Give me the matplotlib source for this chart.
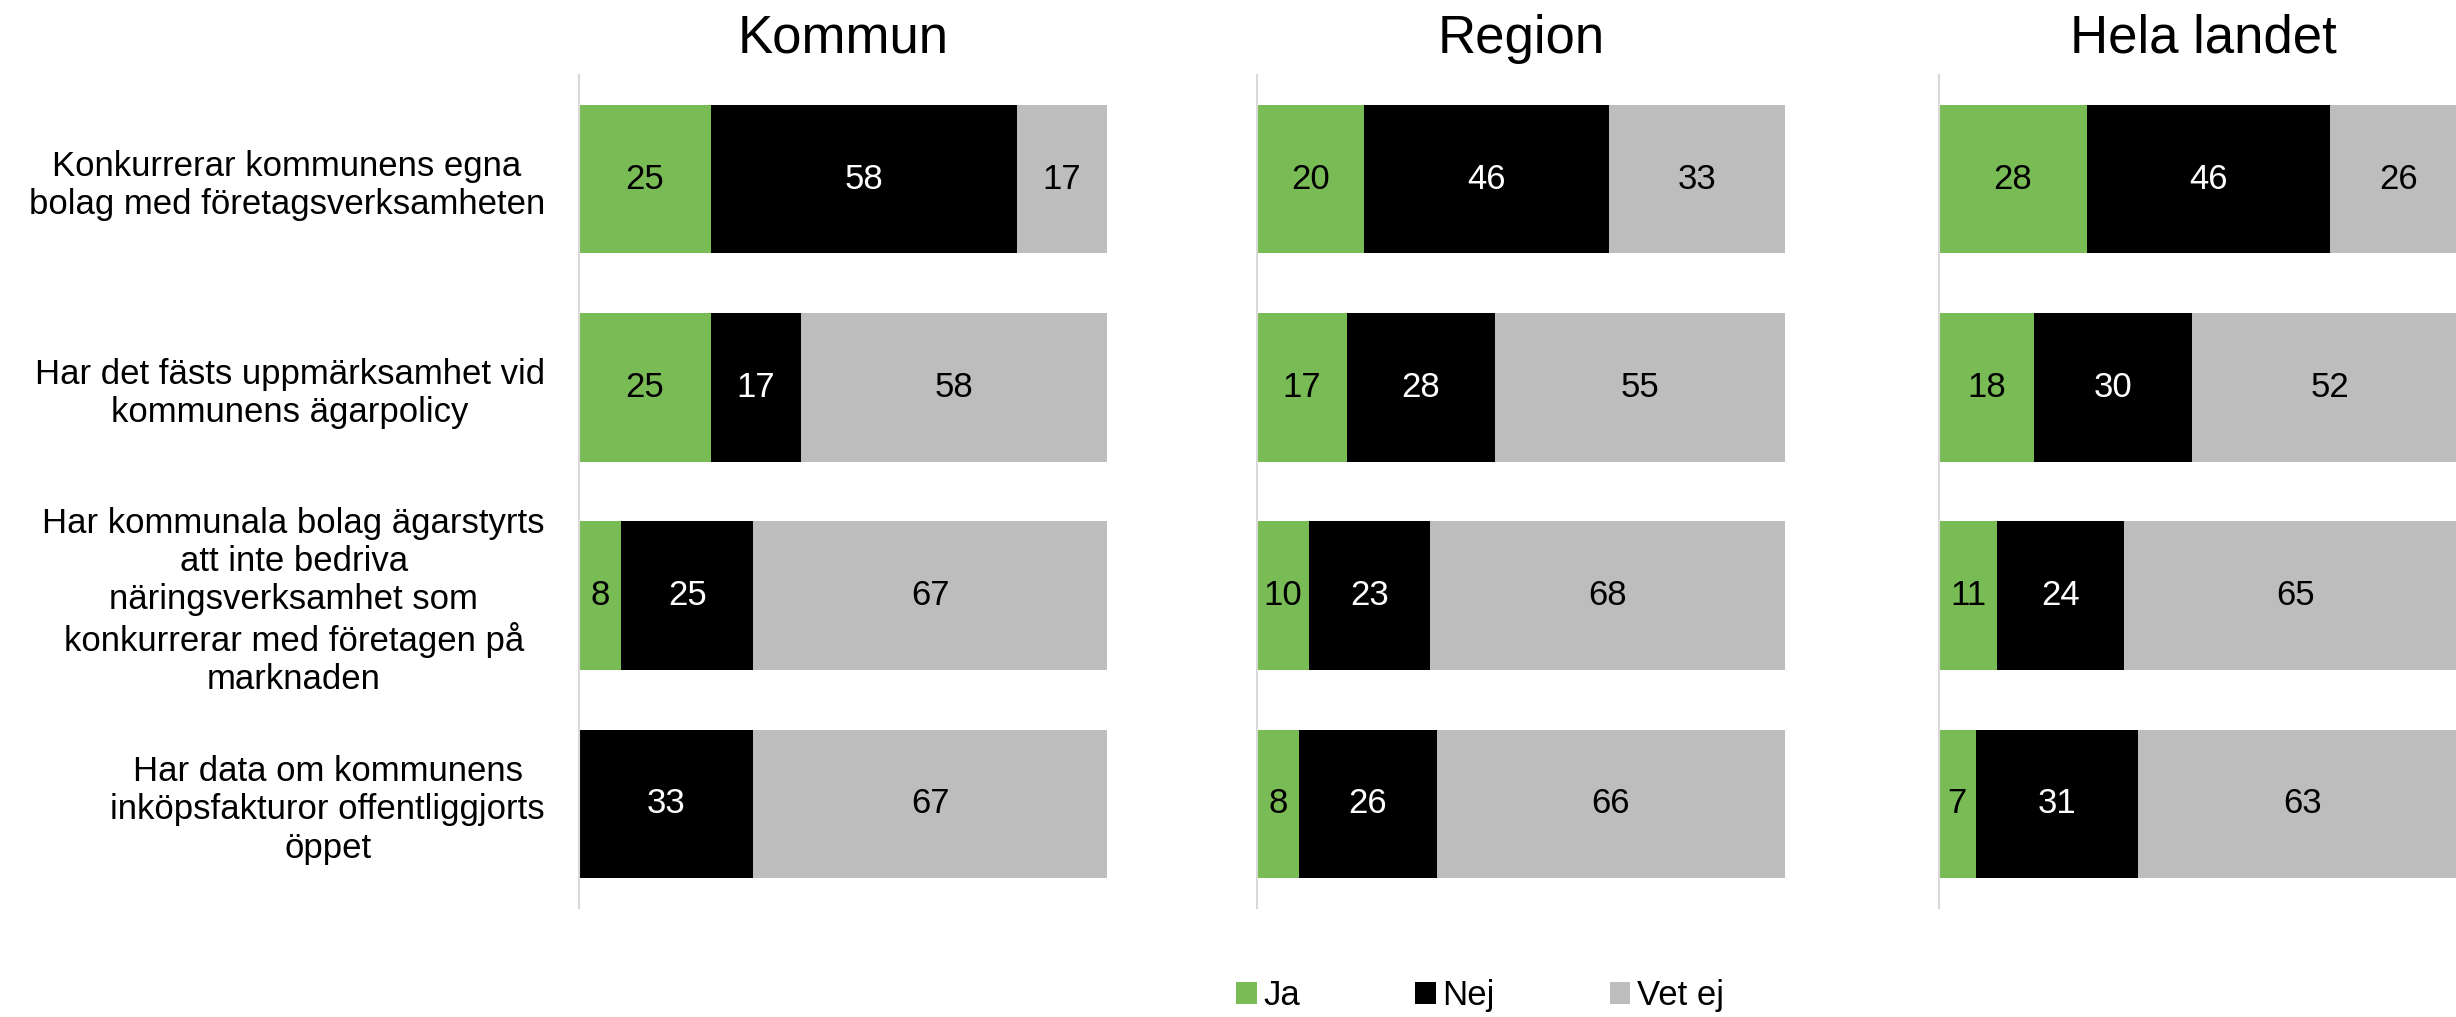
import matplotlib
matplotlib.use("Agg")
import matplotlib.pyplot as plt
from matplotlib.patches import Patch
import numpy as np

plt.rcParams['font.family'] = ['Liberation Sans', 'DejaVu Sans']

categories = [
    "Konkurrerar kommunens egna\nbolag med företagsverksamheten",
    "Har det fästs uppmärksamhet vid\nkommunens ägarpolicy",
    "Har kommunala bolag ägarstyrts\natt inte bedriva\nnäringsverksamhet som\nkonkurrerar med företagen på\nmarknaden",
    "Har data om kommunens\ninköpsfakturor offentliggjorts\nöppet",
]
panels = ["Kommun", "Region", "Hela landet"]
series_names = ["Ja", "Nej", "Vet ej"]

kommun_ja = [25, 25, 8, 0]
kommun_nej = [58, 17, 25, 33]
kommun_vetej = [17, 58, 67, 67]

region_ja = [20, 17, 10, 8]
region_nej = [46, 28, 23, 26]
region_vetej = [33, 55, 68, 66]

hela_ja = [28, 18, 11, 7]
hela_nej = [46, 30, 24, 31]
hela_vetej = [26, 52, 65, 63]

data = [
    [kommun_ja, kommun_nej, kommun_vetej],
    [region_ja, region_nej, region_vetej],
    [hela_ja, hela_nej, hela_vetej],
]

colors = ['#79BC56', '#000000', '#BDBDBD']
label_colors = ['black', 'white', 'black']

W, H = 2456, 1017
fig = plt.figure(figsize=(W / 100, H / 100), dpi=100)

ax_lefts = [579, 1257, 1939]
ax_w = 528
ax_top = 75
ax_bot = 908

y = np.arange(len(categories))
fs = 25

for p, (name, series) in enumerate(zip(panels, data)):
    ax = fig.add_axes([ax_lefts[p] / W, 1 - ax_bot / H, ax_w / W, (ax_bot - ax_top) / H])
    arr = np.array(series, dtype=float)
    totals = arr.sum(axis=0)
    pct = arr / totals * 100
    left = np.zeros(len(categories))
    for s in range(3):
        ax.barh(y, pct[s], left=left, height=0.714, color=colors[s], edgecolor='none')
        for i in range(len(categories)):
            if arr[s][i] > 0:
                ax.text(left[i] + pct[s][i] / 2, y[i], f"{int(arr[s][i])}",
                        ha='center', va='center', color=label_colors[s], fontsize=fs)
        left += pct[s]
    ax.set_xlim(0, 100)
    ax.set_ylim(3.5, -0.5)
    ax.set_title(name, fontsize=38, pad=16)
    for sp in ['top', 'right', 'bottom']:
        ax.spines[sp].set_visible(False)
    ax.spines['left'].set_color('#D9D9D9')
    ax.spines['left'].set_linewidth(1.5)
    ax.set_xticks([])
    ax.tick_params(axis='y', length=0, pad=24.5)
    if p == 0:
        ax.set_yticks(y)
        ax.set_yticklabels(categories, fontsize=fs, multialignment='center')
    else:
        ax.set_yticks([])

handles = [Patch(facecolor=c, edgecolor='none') for c in colors]
fig.legend(handles, series_names, loc='center', bbox_to_anchor=(0.6026, 0.021),
           ncol=3, frameon=False, fontsize=fs, handlelength=0.6, handleheight=0.6,
           handletextpad=0.2, columnspacing=3.3)

fig.savefig("out.png", dpi=100)
